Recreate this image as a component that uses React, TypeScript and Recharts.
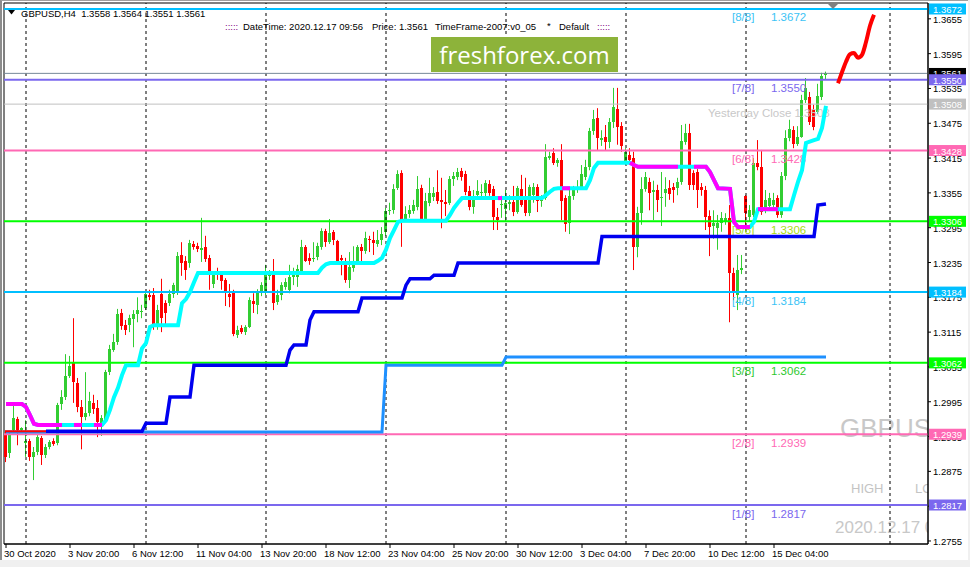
import React from 'react';
import { ComposedChart, Bar, Line, XAxis, YAxis, ReferenceLine, ReferenceArea } from 'recharts';

const FONT = '"Liberation Sans", Arial, sans-serif';

// ---- candles (H4 bars, index 0 = 30 Oct 2020) ----
const opens = [
  1.2938,1.2907,1.2946,1.2965,1.2946,1.2924,1.2927,1.2900,1.2908,1.2932,
  1.2903,1.2917,1.2927,1.2924,1.2991,1.3003,1.3039,1.3062,1.3027,1.2986,
  1.2969,1.2976,1.2993,1.2984,1.2958,1.2963,1.3046,1.3084,1.3098,1.3148,
  1.3127,1.3127,1.3138,1.3146,1.3151,1.3157,1.3179,1.3179,1.3129,1.3181,
  1.3165,1.3165,1.3181,1.3184,1.3248,1.3238,1.3234,1.3267,1.3263,1.3257,
  1.3262,1.3243,1.3198,1.3220,1.3213,1.3205,1.3181,1.3184,1.3110,1.3122,
  1.3115,1.3124,1.3169,1.3162,1.3182,1.3182,1.3212,1.3213,1.3167,1.3179,
  1.3193,1.3188,1.3210,1.3210,1.3220,1.3262,1.3243,1.3241,1.3244,1.3262,
  1.3289,1.3270,1.3288,1.3272,1.3243,1.3234,1.3205,1.3226,1.3236,1.3262,
  1.3255,1.3276,1.3274,1.3267,1.3274,1.3288,1.3324,1.3325,1.3363,1.3389,
  1.3310,1.3319,1.3324,1.3331,1.3363,1.3308,1.3338,1.3348,1.3357,1.3343,
  1.3339,1.3338,1.3379,1.3382,1.3393,1.3388,1.3358,1.3331,1.3351,1.3355,
  1.3355,1.3370,1.3362,1.3313,1.3334,1.3327,1.3336,1.3339,1.3322,1.3362,
  1.3346,1.3320,1.3351,1.3365,1.3341,1.3346,1.3415,1.3424,1.3407,1.3412,
  1.3346,1.3303,1.3350,1.3360,1.3365,1.3382,1.3400,1.3462,1.3484,1.3446,
  1.3451,1.3443,1.3477,1.3500,1.3470,1.3410,1.3420,1.3415,1.3262,1.3320,
  1.3362,1.3374,1.3357,1.3360,1.3346,1.3355,1.3363,1.3365,1.3363,1.3374,
  1.3443,1.3458,1.3389,1.3391,1.3365,1.3360,1.3315,1.3298,1.3294,1.3303,
  1.3305,1.3312,1.3217,1.3179,1.3222,1.3350,1.3313,1.3317,1.3407,1.3400,
  1.3325,1.3332,1.3334,1.3346,1.3317,1.3384,1.3450,1.3463,1.3440,1.3452,
  1.3515,1.3520,1.3498,1.3495,1.3520,1.3558,
];
const highs = [
  1.2946,1.2941,1.2988,1.2969,1.2951,1.2963,1.2931,1.2917,1.2938,1.2936,
  1.2922,1.2929,1.2932,1.2993,1.3015,1.3077,1.3074,1.3139,1.3036,1.2998,
  1.3046,1.3012,1.3007,1.2998,1.2972,1.3050,1.3093,1.3112,1.3155,1.3155,
  1.3136,1.3145,1.3153,1.3175,1.3162,1.3186,1.3188,1.3191,1.3162,1.3207,
  1.3170,1.3188,1.3200,1.3253,1.3270,1.3246,1.3274,1.3272,1.3269,1.3312,
  1.3281,1.3248,1.3219,1.3226,1.3219,1.3208,1.3198,1.3188,1.3126,1.3127,
  1.3127,1.3175,1.3182,1.3189,1.3201,1.3231,1.3222,1.3241,1.3188,1.3201,
  1.3208,1.3231,1.3226,1.3231,1.3274,1.3265,1.3251,1.3270,1.3269,1.3294,
  1.3293,1.3310,1.3291,1.3274,1.3248,1.3243,1.3253,1.3263,1.3265,1.3267,
  1.3288,1.3281,1.3288,1.3291,1.3296,1.3329,1.3338,1.3370,1.3394,1.3394,
  1.3332,1.3334,1.3343,1.3384,1.3369,1.3355,1.3381,1.3365,1.3394,1.3381,
  1.3360,1.3384,1.3391,1.3398,1.3398,1.3393,1.3367,1.3360,1.3377,1.3370,
  1.3377,1.3377,1.3367,1.3329,1.3350,1.3360,1.3351,1.3367,1.3367,1.3386,
  1.3381,1.3369,1.3372,1.3370,1.3351,1.3439,1.3426,1.3432,1.3415,1.3439,
  1.3351,1.3360,1.3367,1.3377,1.3403,1.3412,1.3467,1.3498,1.3501,1.3463,
  1.3472,1.3484,1.3536,1.3536,1.3477,1.3432,1.3432,1.3426,1.3331,1.3382,
  1.3391,1.3381,1.3376,1.3369,1.3391,1.3382,1.3377,1.3372,1.3381,1.3472,
  1.3474,1.3474,1.3394,1.3396,1.3372,1.3367,1.3325,1.3325,1.3317,1.3322,
  1.3320,1.3334,1.3226,1.3248,1.3248,1.3351,1.3334,1.3415,1.3446,1.3429,
  1.3360,1.3355,1.3355,1.3351,1.3391,1.3463,1.3481,1.3470,1.3470,1.3524,
  1.3553,1.3529,1.3507,1.3543,1.3562,1.3564,
];
const lows = [
  1.2891,1.2898,1.2943,1.2920,1.2943,1.2900,1.2893,1.2860,1.2903,1.2886,
  1.2898,1.2913,1.2919,1.2920,1.2981,1.2998,1.3036,1.2993,1.2977,1.2913,
  1.2963,1.2970,1.2974,1.2934,1.2936,1.2960,1.3041,1.3081,1.3093,1.3119,
  1.3110,1.3115,1.3089,1.3132,1.3139,1.3153,1.3170,1.3119,1.3119,1.3115,
  1.3127,1.3160,1.3174,1.3179,1.3212,1.3205,1.3226,1.3257,1.3253,1.3236,
  1.3236,1.3188,1.3191,1.3205,1.3188,1.3160,1.3158,1.3108,1.3105,1.3112,
  1.3110,1.3122,1.3148,1.3146,1.3177,1.3179,1.3205,1.3153,1.3162,1.3170,
  1.3188,1.3182,1.3196,1.3193,1.3217,1.3236,1.3231,1.3236,1.3239,1.3257,
  1.3262,1.3267,1.3265,1.3232,1.3213,1.3200,1.3191,1.3219,1.3231,1.3236,
  1.3250,1.3253,1.3248,1.3262,1.3265,1.3281,1.3317,1.3319,1.3360,1.3262,
  1.3305,1.3312,1.3319,1.3325,1.3305,1.3305,1.3332,1.3341,1.3336,1.3294,
  1.3315,1.3334,1.3367,1.3377,1.3376,1.3351,1.3325,1.3319,1.3348,1.3348,
  1.3346,1.3350,1.3291,1.3291,1.3312,1.3305,1.3325,1.3315,1.3319,1.3331,
  1.3315,1.3315,1.3338,1.3322,1.3331,1.3343,1.3412,1.3403,1.3400,1.3308,
  1.3288,1.3284,1.3343,1.3355,1.3360,1.3377,1.3394,1.3455,1.3429,1.3436,
  1.3429,1.3432,1.3467,1.3438,1.3426,1.3403,1.3403,1.3222,1.3244,1.3300,
  1.3357,1.3325,1.3308,1.3322,1.3298,1.3331,1.3343,1.3338,1.3351,1.3369,
  1.3438,1.3360,1.3360,1.3329,1.3350,1.3291,1.3246,1.3276,1.3257,1.3288,
  1.3300,1.3132,1.3170,1.3153,1.3215,1.3300,1.3305,1.3313,1.3394,1.3317,
  1.3320,1.3325,1.3329,1.3312,1.3312,1.3377,1.3444,1.3432,1.3436,1.3450,
  1.3510,1.3472,1.3463,1.3491,1.3515,1.3551,
];
const closes = [
  1.2900,1.2938,1.2967,1.2946,1.2950,1.2927,1.2900,1.2908,1.2934,1.2903,
  1.2917,1.2926,1.2922,1.2989,1.3003,1.3039,1.3057,1.3029,1.2986,1.2969,
  1.2976,1.2996,1.2982,1.2960,1.2967,1.3046,1.3086,1.3098,1.3146,1.3126,
  1.3119,1.3139,1.3146,1.3153,1.3152,1.3181,1.3175,1.3129,1.3153,1.3139,
  1.3148,1.3181,1.3196,1.3246,1.3234,1.3222,1.3269,1.3262,1.3258,1.3260,
  1.3241,1.3213,1.3213,1.3213,1.3203,1.3182,1.3175,1.3112,1.3119,1.3115,
  1.3124,1.3170,1.3163,1.3184,1.3196,1.3213,1.3215,1.3165,1.3179,1.3196,
  1.3201,1.3210,1.3217,1.3224,1.3262,1.3238,1.3238,1.3243,1.3263,1.3289,
  1.3270,1.3286,1.3274,1.3236,1.3239,1.3205,1.3227,1.3232,1.3262,1.3255,
  1.3277,1.3274,1.3269,1.3274,1.3284,1.3324,1.3326,1.3362,1.3388,1.3308,
  1.3319,1.3325,1.3334,1.3362,1.3308,1.3341,1.3355,1.3355,1.3341,1.3339,
  1.3336,1.3379,1.3384,1.3391,1.3382,1.3357,1.3331,1.3346,1.3358,1.3356,
  1.3372,1.3355,1.3313,1.3308,1.3336,1.3338,1.3339,1.3322,1.3363,1.3334,
  1.3320,1.3365,1.3365,1.3341,1.3343,1.3417,1.3419,1.3407,1.3412,1.3341,
  1.3301,1.3350,1.3360,1.3365,1.3388,1.3400,1.3462,1.3482,1.3450,1.3450,
  1.3443,1.3477,1.3503,1.3469,1.3436,1.3426,1.3412,1.3262,1.3320,1.3362,
  1.3382,1.3355,1.3360,1.3343,1.3348,1.3362,1.3353,1.3360,1.3374,1.3444,
  1.3458,1.3369,1.3369,1.3360,1.3360,1.3313,1.3296,1.3303,1.3303,1.3312,
  1.3312,1.3217,1.3184,1.3222,1.3226,1.3320,1.3325,1.3407,1.3400,1.3322,
  1.3343,1.3346,1.3343,1.3317,1.3384,1.3450,1.3465,1.3440,1.3452,1.3515,
  1.3536,1.3477,1.3469,1.3522,1.3557,1.3561,
];

// ---- indicator lines: [bar index, price] vertices ----
const trailPath: [number, number][] = [
  [0,1.2991],[4,1.2991],[5,1.2986],[6,1.2972],[7,1.2957],[8,1.2955],[24,1.2955],[25,1.2963],
  [26,1.2981],[27,1.3003],[28,1.3019],[29,1.3041],[30,1.3058],[33,1.3058],[34,1.3087],[35,1.3096],
  [36,1.3124],[37,1.3127],[43,1.3127],[44,1.3165],[45,1.3172],[46,1.3184],[47,1.3201],[48,1.3217],
  [78,1.3217],[79,1.3226],[80,1.3232],[81,1.3234],[92,1.3234],[93,1.3238],[94,1.3243],[95,1.3257],
  [96,1.3277],[97,1.3291],[98,1.3305],[99,1.3307],[110,1.3307],[111,1.3317],[112,1.3329],[113,1.3338],
  [114,1.3346],[134,1.3346],[135,1.3351],[136,1.3357],[137,1.3362],[138,1.3363],[145,1.3363],[146,1.3377],
  [147,1.3398],[148,1.3407],[156,1.3407],[157,1.3403],[158,1.3400],[175,1.3400],[176,1.3391],[177,1.3377],
  [178,1.3363],[181,1.3362],[182,1.3305],[183,1.3296],[186,1.3296],[187,1.3305],[188,1.3327],[196,1.3327],
  [197,1.3351],[198,1.3374],[199,1.3394],[200,1.3441],[202,1.3446],[203,1.3448],[204,1.3467],[205,1.3505],
];
const magentaSegments: [number, number][][] = [
  [[0,1.2991],[4,1.2991],[5,1.2986],[6,1.2972],[7,1.2957],[8,1.2955],[14,1.2955]],
  [[17,1.2955],[19,1.2955]],
  [[22,1.2955],[24,1.2955]],
  [[123,1.3346],[124,1.3346]],
  [[139,1.3363],[141,1.3363]],
  [[156,1.3407],[157,1.3403],[158,1.3400],[168,1.3400]],
  [[172,1.3400],[175,1.3400],[176,1.3391],[177,1.3377],[178,1.3363],[181,1.3362],[182,1.3305],[183,1.3296],[186,1.3296]],
  [[188,1.3327],[193,1.3327]],
];
const bluePath: [number, number][] = [
  [10,1.2944],[34,1.2944],[35,1.2958],[40,1.2958],[41,1.3003],[46,1.3003],[47,1.3058],[70,1.3058],
  [71,1.3084],[72,1.3093],[75,1.3093],[76,1.3136],[77,1.3150],[88,1.3150],[89,1.3174],[99,1.3174],
  [100,1.3196],[101,1.3207],[106,1.3207],[107,1.3213],[112,1.3213],[113,1.3234],[148,1.3234],[149,1.3280],
  [202,1.3280],[203,1.3334],[205,1.3336],
];
const blueDownPath: [number, number][] = [[0,1.2944],[10,1.2944]];
const dodgerPath: [number, number][] = [[0,1.2943],[94,1.2943],[95,1.3058],[124,1.3058],[125,1.3072],[205,1.3072]];
const forecastPath: [number, number][] = [
  [208,1.3544],[209,1.3563],[210,1.3581],[211,1.3594],[212,1.3596],[213,1.3588],[214,1.3593],
  [215,1.3615],[216,1.3643],[217,1.3662],
];

// ---- levels ----
const levelNames = ['[8/8]','[7/8]','[6/8]','[5/8]','[4/8]','[3/8]','[2/8]','[1/8]'];
const levelPrices = [1.3672,1.3550,1.3428,1.3306,1.3184,1.3062,1.2939,1.2817];
const currentPrice = 1.3561;
const yesterdayClose = 1.3508;
const yesterdayText = 'Yesterday Close 1.3508';

// ---- axes ----
const slotCount = 231;
const timeTickIdx = [0,16,32,48,64,80,96,112,128,144,160,176,192];
const timeTickLabels = ['30 Oct 2020','3 Nov 20:00','6 Nov 12:00','11 Nov 04:00','13 Nov 20:00','18 Nov 12:00',
  '23 Nov 04:00','25 Nov 20:00','30 Nov 12:00','3 Dec 04:00','7 Dec 20:00','10 Dec 12:00','15 Dec 04:00'];
const gridIdx = [5,35,65,95,125,155,185,221];
const priceTicks = [1.2755,1.2815,1.2875,1.2935,1.2995,1.3055,1.3115,1.3175,1.3235,1.3295,1.3355,1.3415,1.3475,1.3535,1.3595,1.3655];
const yDomain: [number, number] = [1.27498, 1.36823];
// price tags on the right scale (drawn in this order)
const tagPrices = [currentPrice, yesterdayClose, ...levelPrices];

// ---- styles ----
const levelLineColors = ['#00BFFF','#7B68EE','#FF69B4','#00FF00','#00BFFF','#00FF00','#FF69B4','#7B68EE'];
const levelTextColors = ['#3CC3F5','#7B68EE','#FF69B4','#A8DC10','#3CC3F5','#2EC82E','#FF69B4','#7B68EE'];
const tagColors = ['#000000', '#C0C0C0', ...levelLineColors];
const GREEN = '#32CD32';
const RED = '#FF0000';

function buildRows() {
  const rows: any[] = [];
  for (let i = 0; i < slotCount; i++) rows.push({ i });
  opens.forEach((o, k) => {
    rows[k].o = o; rows[k].h = highs[k]; rows[k].l = lows[k]; rows[k].c = closes[k];
    rows[k].range = [lows[k], highs[k]];
  });
  const put = (path: [number, number][], key: string) => path.forEach(([i, p]) => { rows[i][key] = p; });
  put(dodgerPath, 'dodger');
  put(blueDownPath, 'blueDn');
  put(bluePath, 'blue');
  put(trailPath, 'trail');
  magentaSegments.forEach((seg, s) => put(seg, 'm' + s));
  put(forecastPath, 'fc');
  return rows;
}
const rows = buildRows();

const Candle = (props: any) => {
  const { x, y, width, height, payload } = props;
  if (!payload || payload.o == null || !isFinite(y) || !isFinite(height)) return null;
  const { o, h, l, c } = payload;
  const up = c >= o;
  const color = up ? GREEN : RED;
  const span = h - l;
  const k = span > 0 ? height / span : 0;
  const top = y + (h - Math.max(o, c)) * k;
  const bot = y + (h - Math.min(o, c)) * k;
  const cx = x + width / 2;
  return (
    <g>
      <line x1={cx} x2={cx} y1={y} y2={y + height} stroke={color} strokeWidth={1} />
      <rect x={x} y={top} width={width} height={Math.max(1, bot - top)} fill={color} shapeRendering="crispEdges" />
    </g>
  );
};

const PriceTick = (props: any) => {
  const { x, y, payload } = props;
  return (
    <g>
      <line x1={x} x2={x + 3} y1={y} y2={y} stroke="#000" />
      <text x={x + 5} y={y + 0.5} dominantBaseline="central" fontSize={9.5} fill="#000" fontFamily={FONT}>
        {Number(payload.value).toFixed(4)}
      </text>
    </g>
  );
};

// coloured price tag drawn by the second (outer) right axis; x is that axis' position
const TagTick = (props: any) => {
  const { x, y, payload } = props;
  const v = Number(payload.value);
  const k = tagPrices.findIndex((p) => Math.abs(p - v) < 1e-9);
  if (k < 0) return null;
  const bx = x - 40;
  const isCurrent = k === 0;
  const clipId = 'tagclip' + k;
  return (
    <g>
      {isCurrent ? (
        <defs><clipPath id={clipId}><rect x={bx} y={y - 5.5} width={37} height={8} /></clipPath></defs>
      ) : null}
      <g clipPath={isCurrent ? `url(#${clipId})` : undefined}>
        <rect x={bx} y={y - 5.5} width={37} height={11} fill={tagColors[k]} />
        <text x={bx + 4} y={y + 0.5} dominantBaseline="central" fontSize={9.5} fill="#fff" fontFamily={FONT}>
          {v.toFixed(4)}
        </text>
      </g>
    </g>
  );
};

const TimeTick = (props: any) => {
  const { x, y, payload } = props;
  const idx = timeTickIdx.indexOf(payload.value);
  return (
    <g>
      <line x1={x} x2={x} y1={y} y2={y + 4} stroke="#000" />
      <text x={x - 2} y={y + 9} dominantBaseline="central" fontSize={9.5} fill="#000" fontFamily={FONT}>
        {timeTickLabels[idx]}
      </text>
    </g>
  );
};

const makeText = (name: string, nameColor: string, nameX: number, value: string | null, valueX: number) => (props: any) => {
  const vb = props.viewBox || {};
  const x0 = vb.x ?? 4;
  const y = vb.y ?? 0;
  return (
    <g>
      <text x={x0 + nameX} y={y + 8.5} dominantBaseline="central" fontSize={11.5} fill={nameColor} fontFamily={FONT}>{name}</text>
      {value != null ? (
        <text x={x0 + valueX} y={y + 8.5} dominantBaseline="central" fontSize={11.5} fill={nameColor} fontFamily={FONT}>{value}</text>
      ) : null}
    </g>
  );
};

const lineCommon = { dot: false, activeDot: false, connectNulls: true, isAnimationActive: false, type: 'linear' as const };

export default function App() {
  return (
    <div style={{ position: 'absolute', left: 0, top: 0, width: 970, height: 567, background: '#F0F0F0', overflow: 'hidden', fontFamily: FONT }}>
      <div style={{ position: 'absolute', left: 0, top: 0, width: 968, height: 560, background: '#fff', borderTop: '1px solid #A0A0A0', borderLeft: '2px solid #8C8C8C', boxSizing: 'border-box' }} />
      <svg width={970} height={567} style={{ position: 'absolute', left: 0, top: 0 }}>
        <defs>
          <clipPath id="plotclip"><rect x={4} y={3} width={924} height={541} /></clipPath>
        </defs>
        <g clipPath="url(#plotclip)" fontFamily={FONT}>
          <text x={840} y={437} fontSize={26} fill="#C8C8C8">GBPUSD</text>
          <text x={851} y={488} dominantBaseline="central" fontSize={13} fill="#C4C4C4">HIGH</text>
          <text x={915} y={488} dominantBaseline="central" fontSize={13} fill="#C4C4C4">LOW</text>
          <text x={835} y={527} dominantBaseline="central" fontSize={17} fill="#C8C8C8">2020.12.17 09:56</text>
        </g>
        <polygon points="8,10 15,10 11.5,14.5" fill="#000" />
        <text x={21} y={13} dominantBaseline="central" fontSize={9.5} fill="#000" fontFamily={FONT} style={{ whiteSpace: 'pre' }}>GBPUSD,H4  1.3558 1.3564 1.3551 1.3561</text>
        <g fontFamily={FONT} fontSize={9.5}>
          <text x={225} y={26} dominantBaseline="central" fill="#800080">:::::</text>
          <text x={243} y={26} dominantBaseline="central" fill="#000">DateTime: 2020.12.17 09:56</text>
          <text x={372} y={26} dominantBaseline="central" fill="#000">Price: 1.3561</text>
          <text x={435} y={26} dominantBaseline="central" fill="#000">TimeFrame-2007:v0_05</text>
          <text x={547} y={25} dominantBaseline="central" fill="#000">*</text>
          <text x={559} y={26} dominantBaseline="central" fill="#000">Default</text>
          <text x={597} y={26} dominantBaseline="central" fill="#800080">:::::</text>
        </g>
      </svg>
      <div style={{ position: 'absolute', left: 0, top: 0 }}>
        <ComposedChart width={970} height={567} data={rows} margin={{ top: 3, right: 0, bottom: 9, left: 4 }}>
          <XAxis
            type="number"
            dataKey="i"
            domain={[-0.5, 230.5]}
            allowDataOverflow
            ticks={timeTickIdx}
            interval={0}
            tickSize={0}
            tickMargin={0}
            height={14}
            axisLine={{ stroke: '#000' }}
            tickLine={false}
            tick={(p: any) => <TimeTick {...p} />}
          />
          <YAxis
            yAxisId="price"
            orientation="right"
            type="number"
            domain={yDomain}
            allowDataOverflow
            ticks={priceTicks}
            interval={0}
            width={41}
            tickSize={0}
            tickMargin={0}
            axisLine={{ stroke: '#000' }}
            tickLine={false}
            tick={(p: any) => <PriceTick {...p} />}
          />
          <YAxis
            yAxisId="tags"
            orientation="right"
            type="number"
            domain={yDomain}
            allowDataOverflow
            ticks={tagPrices}
            interval={0}
            width={1}
            tickSize={0}
            tickMargin={0}
            axisLine={false}
            tickLine={false}
            tick={(p: any) => <TagTick {...p} />}
          />
          <ReferenceArea yAxisId="price" x1={-0.5} x2={230.5} y1={yDomain[0]} y2={yDomain[1]} fill="none" stroke="#000" strokeWidth={1} />
          {gridIdx.map((g) => (
            <ReferenceLine yAxisId="price" key={'g' + g} x={g} stroke="#000" strokeWidth={1} strokeDasharray="3 3" />
          ))}
          <Bar yAxisId="price" dataKey="range" barSize={3} isAnimationActive={false} shape={(p: any) => <Candle {...p} />} />
          <ReferenceLine yAxisId="price" y={currentPrice} stroke="#778899" strokeWidth={1} />
          {levelPrices.map((p, k) => (
            <ReferenceLine yAxisId="price" key={'lv' + k} y={p} stroke={levelLineColors[k]} strokeWidth={2}
              label={makeText(levelNames[k], levelTextColors[k], 728, p.toFixed(4), 767)} />
          ))}
          <ReferenceLine yAxisId="price" y={yesterdayClose} stroke="#C0C0C0" strokeWidth={1}
            label={makeText(yesterdayText, '#C8C8C8', 704, null, 0)} />
          <Line yAxisId="price" dataKey="dodger" stroke="#1E90FF" strokeWidth={3} {...lineCommon} />
          <Line yAxisId="price" dataKey="blueDn" stroke="#FF0000" strokeWidth={2} {...lineCommon} />
          <Line yAxisId="price" dataKey="blue" stroke="#0000F0" strokeWidth={3.5} {...lineCommon} />
          <Line yAxisId="price" dataKey="trail" stroke="#00FFFF" strokeWidth={4} {...lineCommon} />
          {magentaSegments.map((_, s) => (
            <Line yAxisId="price" key={'m' + s} dataKey={'m' + s} stroke="#FF00FF" strokeWidth={4} {...lineCommon} />
          ))}
          <Line yAxisId="price" dataKey="fc" stroke="#FF0000" strokeWidth={4} {...lineCommon} type="monotone" />
        </ComposedChart>
      </div>
      <div style={{ position: 'absolute', left: 431, top: 37, width: 187, height: 35, background: '#8DB33A', color: '#fff', fontFamily: '"Open Sans", sans-serif', fontSize: 24, lineHeight: '35px', textAlign: 'center' }}>
        freshforex.com
      </div>
      <div style={{ position: 'absolute', left: 828, top: 4, width: 0, height: 0, borderLeft: '5px solid transparent', borderRight: '5px solid transparent', borderTop: '5px solid #808080' }} />
    </div>
  );
}
